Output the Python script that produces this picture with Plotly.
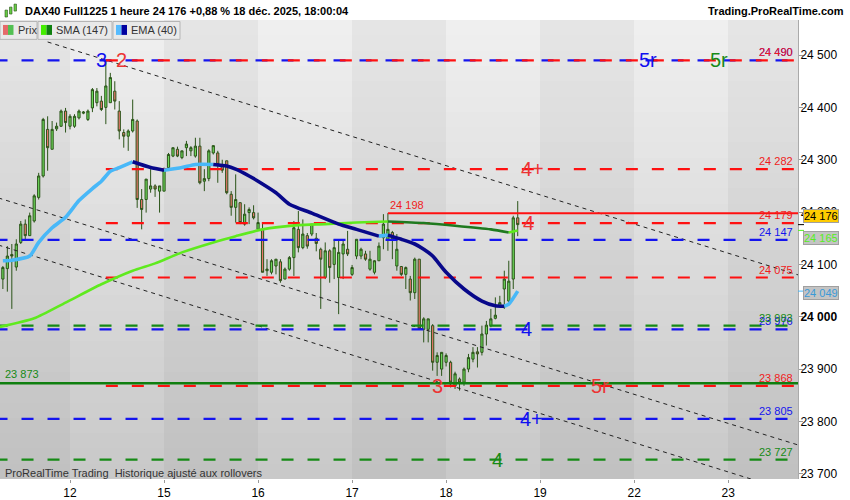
import plotly.graph_objects as go

# DAX40 Full1225, 1 hour bars, 11 -> 18 Dec 2025 (bar 0 = first bar of the 12th)
bar_index = list(range(-15, 101))
opens = [
    24072, 24092, 24119, 24095, 24142, 24177, 24155, 24183, 24228, 24269,
    24358, 24320, 24359, 24364, 24393, 24364, 24364, 24380, 24389, 24377,
    24399, 24409, 24412, 24400, 24409, 24431, 24393, 24352, 24345, 24355,
    24374, 24224, 24224, 24244, 24250, 24240, 24240, 24285, 24307, 24320,
    24304, 24323, 24317, 24307, 24326, 24259, 24264, 24313, 24313, 24291,
    24298, 24234, 24209, 24218, 24177, 24199, 24199, 24167, 24167, 24088,
    24085, 24097, 24105, 24072, 24091, 24113, 24167, 24132, 24155, 24158,
    24150, 24129, 24075, 24126, 24100, 24075, 24120, 24129, 24081, 24116,
    24116, 24120, 24091, 24085, 24107, 24151, 24148, 24161, 24097, 24096,
    24081, 24072, 24046, 24110, 23976, 23976, 23983, 23913, 23900, 23913,
    23913, 23868, 23881, 23875, 23900, 23919, 23933, 23932, 23967, 23983,
    23997, 24021, 24053, 24030, 24072, 24189,
]
highs = [
    24097, 24135, 24139, 24148, 24183, 24186, 24199, 24234, 24275, 24380,
    24383, 24374, 24371, 24396, 24399, 24387, 24387, 24396, 24393, 24396,
    24437, 24437, 24422, 24490, 24466, 24450, 24412, 24358, 24358, 24415,
    24377, 24244, 24263, 24282, 24253, 24250, 24285, 24313, 24323, 24325,
    24317, 24336, 24326, 24342, 24342, 24282, 24320, 24327, 24317, 24300,
    24298, 24240, 24272, 24218, 24215, 24209, 24213, 24199, 24180, 24110,
    24110, 24110, 24110, 24094, 24116, 24183, 24202, 24186, 24160, 24177,
    24160, 24132, 24142, 24129, 24148, 24145, 24145, 24164, 24099, 24148,
    24132, 24126, 24126, 24108, 24142, 24196, 24198, 24164, 24158, 24097,
    24096, 24078, 24113, 24110, 23999, 23996, 23986, 23932, 23932, 23930,
    23916, 23895, 23884, 23903, 23929, 23942, 23942, 23983, 23992, 24015,
    24037, 24040, 24088, 24107, 24193, 24221,
]
lows = [
    24053, 24048, 24015, 24088, 24139, 24148, 24155, 24180, 24224, 24266,
    24279, 24320, 24355, 24363, 24352, 24358, 24361, 24377, 24387, 24374,
    24391, 24402, 24393, 24368, 24409, 24396, 24339, 24323, 24317, 24352,
    24208, 24167, 24199, 24237, 24229, 24199, 24240, 24285, 24305, 24305,
    24301, 24307, 24307, 24304, 24253, 24240, 24259, 24310, 24256, 24275,
    24234, 24193, 24180, 24177, 24174, 24177, 24186, 24164, 24085, 24078,
    24081, 24081, 24065, 24072, 24088, 24078, 24123, 24129, 24130, 24154,
    24125, 24015, 24072, 24065, 24072, 24005, 24072, 24116, 24078, 24110,
    24110, 24107, 24088, 24081, 24107, 24129, 24126, 24110, 24088, 24078,
    24053, 24031, 24034, 23976, 23951, 23951, 23897, 23887, 23887, 23905,
    23865, 23862, 23859, 23868, 23894, 23913, 23903, 23926, 23945, 23980,
    23995, 24018, 24015, 24027, 24053, 24154,
]
closes = [
    24094, 24116, 24116, 24139, 24177, 24155, 24193, 24231, 24269, 24377,
    24323, 24358, 24364, 24393, 24371, 24383, 24383, 24393, 24391, 24393,
    24434, 24431, 24396, 24441, 24457, 24412, 24355, 24345, 24355, 24377,
    24224, 24205, 24263, 24250, 24244, 24250, 24282, 24310, 24323, 24307,
    24317, 24330, 24323, 24326, 24256, 24264, 24317, 24327, 24291, 24280,
    24237, 24209, 24224, 24180, 24196, 24205, 24189, 24180, 24085, 24091,
    24107, 24110, 24069, 24091, 24113, 24170, 24132, 24158, 24135, 24177,
    24140, 24110, 24126, 24094, 24132, 24123, 24139, 24120, 24094, 24148,
    24129, 24110, 24110, 24107, 24135, 24177, 24167, 24148, 24129, 24081,
    24094, 24046, 24110, 23976, 23996, 23996, 23913, 23926, 23932, 23926,
    23875, 23891, 23875, 23900, 23922, 23932, 23929, 23967, 23984, 23996,
    24003, 24027, 24072, 24068, 24189, 24176,
]

# indicators (bar, value)
ema_bars = [-15, -13, -9, -7, -4, -1, 2, 5, 7, 9, 11, 14, 18, 21, 25, 28, 32,
            35, 37, 40, 42, 46, 49, 54, 60, 64, 69, 71, 74, 77, 79, 81, 84,
            88, 92, 95, 97, 98, 100]
ema_vals = [24107, 24108, 24116, 24142, 24170, 24190, 24222, 24245, 24259,
            24278, 24285, 24296, 24285, 24280, 24285, 24291, 24291, 24288,
            24282, 24269, 24259, 24237, 24215, 24198, 24177, 24167, 24154,
            24156, 24148, 24139, 24129, 24116, 24085, 24053, 24030, 24021,
            24020, 24024, 24049]
sma_bars = [-16, -8, -1, 7, 14, 19, 25, 32, 37, 43, 51, 57, 64, 71, 79, 86,
            94, 98, 100]
sma_vals = [23980, 23997, 24027, 24062, 24088, 24102, 24123, 24142, 24154,
            24167, 24175, 24177, 24180, 24182, 24179, 24174, 24167, 24161,
            24165]

day_ticks = [0, 21, 42, 63, 84, 105, 126, 147]
day_labels = ["12", "15", "16", "17", "18", "19", "22", "23"]
day_edges = [-21, 0, 21, 42, 63, 84, 105, 126, 147, 168]
price_ticks = [23700, 23800, 23900, 24000, 24100, 24200, 24300, 24400, 24500]

# support / resistance levels
red_levels = [24490, 24282, 24179, 24075, 23868]
red_start = 8
blue_levels = [24490, 24147, 23976, 23805]
green_levels = [23983, 23727]
high_line, high_start = 24198, 71
low_line = 23873

# channel lines: (bar0, price0, bar1, price1)
channels = [(-5, 24525, 163, 24079), (-16, 24227, 163, 23754),
            (-16, 24137, 163, 23661)]

# wave marks on the levels
mark_text = ["3", "2", "5r", "5r", "4+", "4", "4", "3", "5r", "4+", "4"]
mark_bar = [7, 11.6, 129, 145, 103.2, 102.3, 102, 82, 118.4, 103, 95.4]
mark_level = [24490, 24490, 24490, 24490, 24282, 24179, 23976, 23868, 23868,
              23805, 23727]
mark_group = ["b", "r", "b", "g", "r", "r", "b", "r", "r", "b", "g"]

FONT = "Liberation Sans, Arial, sans-serif"
RED, BLUE, GREEN = "#f01c1c", "#1414ee", "#168a16"
MARK = {"r": "#ec3434", "b": "#1010f0", "g": "#178a17"}
X0, X1 = -15.64, 162.6
W, H, TOP = 798, 462, 20


def px(x):
    return x / W


def py(y):
    return (TOP + H - y) / H


def fmt(v):
    return f"{v // 1000} {v % 1000:03d}"


def slope_runs(xs, ys):
    runs = []
    for i in range(len(xs) - 1):
        up = ys[i + 1] >= ys[i]
        if runs and runs[-1][0] == up:
            runs[-1][1].append(xs[i + 1])
            runs[-1][2].append(ys[i + 1])
        else:
            runs.append([up, [xs[i], xs[i + 1]], [ys[i], ys[i + 1]]])
    return runs


fig = go.Figure()

# background: alternating day bands with a vertical grey gradient
y_lo, y_hi, rows = 23690, 24567, 30
y_edges = [y_lo + (y_hi - y_lo) * i / rows for i in range(rows + 1)]
z = []
for r in range(rows):
    t = 1 - (r + 0.5) / rows
    z.append([(240 - 40 * t) if c % 2 else (230 - 38 * t)
              for c in range(len(day_edges) - 1)])
fig.add_trace(go.Heatmap(x=day_edges, y=y_edges, z=z, zmin=0, zmax=255,
                         colorscale=[[0, "rgb(0,0,0)"], [1, "rgb(255,255,255)"]],
                         showscale=False, hoverinfo="skip"))

for b0, p0, b1, p1 in channels:
    fig.add_trace(go.Scatter(x=[b0, b1], y=[p0, p1], mode="lines",
                             line=dict(color="#222", width=1, dash="4px,4px"),
                             hoverinfo="skip"))

dash = "12px,14px"
for v in blue_levels:
    fig.add_trace(go.Scatter(x=[X0 - 1, X1 + 1], y=[v, v], mode="lines",
                             line=dict(color=BLUE, width=2.2, dash=dash), hoverinfo="skip"))
for v in green_levels:
    fig.add_trace(go.Scatter(x=[X0 - 1, X1 + 1], y=[v, v], mode="lines",
                             line=dict(color=GREEN, width=2.2, dash=dash), hoverinfo="skip"))
for v in red_levels:
    fig.add_trace(go.Scatter(x=[red_start, X1 + 1], y=[v, v], mode="lines",
                             line=dict(color="#ff1010", width=2.2, dash=dash), hoverinfo="skip"))
fig.add_trace(go.Scatter(x=[X0 - 1, X1 + 1], y=[low_line, low_line], mode="lines",
                         line=dict(color="#0f7f0f", width=2.4), hoverinfo="skip"))
fig.add_trace(go.Scatter(x=[high_start, X1 + 1], y=[high_line, high_line], mode="lines",
                         line=dict(color="#ff1010", width=2), hoverinfo="skip"))

# moving averages, coloured by direction
for runs_src, up_col, dn_col, width in (
        ((sma_bars, sma_vals), "#5fea1e", "#1f7a1f", 2.6),
        ((ema_bars, ema_vals), "#48b8f8", "#08088a", 3.6)):
    for up, xs, ys in slope_runs(*runs_src):
        fig.add_trace(go.Scatter(x=xs, y=ys, mode="lines", line_shape="spline",
                                 line=dict(color=up_col if up else dn_col, width=width,
                                           smoothing=0.6),
                                 hoverinfo="skip"))

fig.add_trace(go.Candlestick(
    x=bar_index, open=opens, high=highs, low=lows, close=closes,
    increasing=dict(line=dict(color="#2b5419", width=1), fillcolor="#6cd85a"),
    decreasing=dict(line=dict(color="#2b5419", width=1), fillcolor="#e9776c"),
    whiskerwidth=0, hoverinfo="skip"))

ann = []
for t, b, v, g in zip(mark_text, mark_bar, mark_level, mark_group):
    ann.append(dict(x=b, y=v, xref="x", yref="y", text=t, showarrow=False,
                    xanchor="center", yanchor="middle",
                    font=dict(family=FONT, size=20, color=MARK[g])))

# value labels at the right end of each level (drawn blue/green first, red on top)
for vals, col in ((blue_levels, BLUE), (green_levels, GREEN), (red_levels, RED)):
    for v in vals:
        ann.append(dict(x=px(795), y=v, xref="paper", yref="y", text=fmt(v),
                        xanchor="right", yanchor="middle", yshift=8, showarrow=False,
                        font=dict(family=FONT, size=11, color=col)))
ann.append(dict(x=high_start, y=high_line, xref="x", yref="y", text=fmt(high_line),
                xanchor="left", yanchor="middle", yshift=8, showarrow=False,
                font=dict(family=FONT, size=11, color=RED)))
ann.append(dict(x=px(3), y=low_line, xref="paper", yref="y", text=fmt(low_line),
                xanchor="left", yanchor="middle", yshift=9, showarrow=False,
                font=dict(family=FONT, size=11, color=GREEN)))

# price boxes on the axis
for v, shift, txt_col, bg in ((closes[-1], 9, "#000000", "#ffcc00"),
                              (sma_vals[-1], -8, "#55ee22", "#c4c4c4"),
                              (ema_vals[-1], -2, "#3a9ad8", "#c4c4c4")):
    ann.append(dict(x=px(803), y=v, xref="paper", yref="y", text=fmt(v),
                    xanchor="left", yanchor="middle", yshift=shift, showarrow=False,
                    bgcolor=bg, bordercolor="#a0a0a0", borderwidth=1, borderpad=0,
                    font=dict(family=FONT, size=11, color=txt_col)))

# header, legend row and footer note
def note(text, x, y, anchor="left", size=11, color="#333"):
    ann.append(dict(x=px(x), y=py(y), xref="paper", yref="paper", text=text,
                    xanchor=anchor, yanchor="middle", showarrow=False,
                    font=dict(family=FONT, size=size, color=color)))


note("<b>DAX40 Full1225 1 heure 24 176 +0,88 % 18 déc. 2025, 18:00:04</b>", 23, 11, color="#000")
note("<b>Trading.ProRealTime.com</b>", 846, 11, anchor="right", color="#000")
for label, x in (("Prix", 16), ("SMA (147)", 54), ("EMA (40)", 129)):
    note(label, x, 30.5)
note("ProRealTime Trading  Historique ajusté aux rollovers", 3, 476)

shapes = []
for x0, x1 in ((0, 37), (38, 112), (113, 180)):
    shapes.append(dict(type="rect", xref="paper", yref="paper", layer="above",
                       x0=px(x0), x1=px(x1), y0=py(39.5), y1=py(21.5),
                       fillcolor="#e9e9e9", line=dict(color="#b5b5b5", width=1)))
for x0, col in ((3, "#e56a6a"), (8, "#52c052"), (41, "#44ee00"), (46.5, "#108010"),
                (116, "#55bbff"), (121.5, "#0000a0")):
    shapes.append(dict(type="rect", xref="paper", yref="paper", layer="above",
                       x0=px(x0), x1=px(x0 + 5.5), y0=py(35), y1=py(25),
                       fillcolor=col, line=dict(width=0)))
for x0, y0, y1 in ((5, 10, 17), (9.5, 7, 14), (14, 4, 11)):
    shapes.append(dict(type="rect", xref="paper", yref="paper", layer="above",
                       x0=px(x0), x1=px(x0 + 2.5), y0=py(y1), y1=py(y0),
                       fillcolor="#66cc44", line=dict(color="#2b5419", width=0.6)))
for v, col in ((closes[-1], "#000"), (sma_vals[-1], "#55ee22"), (ema_vals[-1], "#48b8f8")):
    shapes.append(dict(type="line", xref="paper", yref="y", x0=1, x1=px(804),
                       y0=v, y1=v, line=dict(color=col, width=1)))

fig.update_layout(
    width=850, height=500, margin=dict(l=0, r=52, t=20, b=18),
    paper_bgcolor="white", plot_bgcolor="#d8d8d8", showlegend=False,
    annotations=ann, shapes=shapes, font=dict(family=FONT),
    xaxis=dict(range=[X0, X1], tickvals=day_ticks, ticktext=day_labels,
               showgrid=False, zeroline=False, ticks="outside", ticklen=3,
               tickcolor="#999", tickfont=dict(size=12, color="#000"),
               rangeslider=dict(visible=False)),
    yaxis=dict(range=[y_lo, y_hi], side="right", tickvals=price_ticks,
               ticktext=[f"<b>{fmt(v)}</b>" if v == 24000 else fmt(v) for v in price_ticks],
               showgrid=False, zeroline=False, ticks="outside", ticklen=4,
               ticklabelstandoff=-5,
               tickcolor="#999", showline=True, linecolor="#aaa",
               tickfont=dict(size=12, color="#000")),
)

# the page's default body margin would shift the figure by 8px
fig.write_html("out.html", config={"displayModeBar": False},
               post_script="document.body.style.margin='0';")
